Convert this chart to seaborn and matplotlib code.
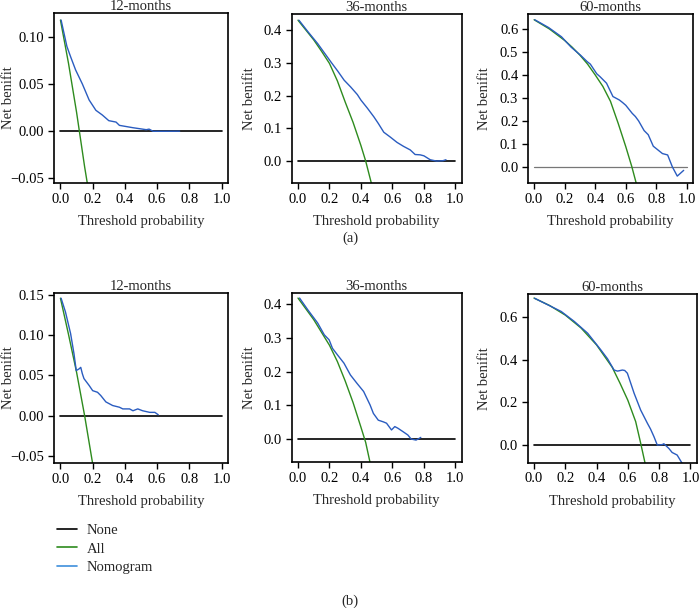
import numpy as np
import pandas as pd
import matplotlib
matplotlib.use("Agg")
import matplotlib.pyplot as plt
from matplotlib.lines import Line2D
import seaborn as sns

# ---------------- data ----------------
titles = ["12-months", "36-months", "60-months", "12-months", "36-months", "60-months"]
legend_labels = ["None", "All", "Nomogram"]

none_x = [0.0, 1.0]
none_y = [0.0, 0.0]

# (a) 12-months
a12_nom_x = [0.004, 0.04, 0.063, 0.094, 0.136, 0.178, 0.22, 0.26, 0.30, 0.345, 0.366, 0.45, 0.533, 0.55, 0.575, 0.66, 0.74]
a12_nom_y = [0.118, 0.090, 0.079, 0.065, 0.050, 0.033, 0.022, 0.017, 0.011, 0.0095, 0.006, 0.0035, 0.0014, 0.002, -0.0003, -0.0003, -0.0002]
a12_all_x = [0.0, 0.05, 0.10, 0.15, 0.17]
a12_all_y = [0.118, 0.072, 0.020, -0.038, -0.059]

# (a) 36-months
a36_nom_x = [0.006, 0.063, 0.126, 0.168, 0.21, 0.252, 0.293, 0.335, 0.377, 0.40, 0.44, 0.482, 0.51, 0.545, 0.587, 0.629, 0.67, 0.713, 0.744, 0.776, 0.80, 0.84, 0.88, 0.92, 0.94]
a36_nom_y = [0.430, 0.395, 0.358, 0.330, 0.302, 0.275, 0.247, 0.226, 0.203, 0.186, 0.162, 0.135, 0.115, 0.088, 0.073, 0.057, 0.045, 0.034, 0.020, 0.019, 0.016, 0.004, 0.0, 0.001, 0.004]
a36_all_x = [0.0, 0.10, 0.15, 0.20, 0.25, 0.30, 0.35, 0.40, 0.43, 0.47]
a36_all_y = [0.430, 0.370, 0.335, 0.298, 0.245, 0.180, 0.118, 0.047, 0.0, -0.075]

# (a) 60-months
a60_nom_x = [0.004, 0.095, 0.179, 0.242, 0.305, 0.347, 0.368, 0.41, 0.432, 0.474, 0.516, 0.558, 0.579, 0.60, 0.642, 0.663, 0.684, 0.72, 0.747, 0.78, 0.81, 0.84, 0.874, 0.905, 0.937, 0.979]
a60_nom_y = [0.640, 0.606, 0.566, 0.521, 0.485, 0.458, 0.447, 0.405, 0.392, 0.364, 0.306, 0.291, 0.280, 0.268, 0.233, 0.219, 0.200, 0.158, 0.140, 0.090, 0.074, 0.058, 0.052, 0.0, -0.040, -0.015]
a60_all_x = [0.0, 0.10, 0.20, 0.25, 0.30, 0.35, 0.40, 0.45, 0.50, 0.55, 0.60, 0.64, 0.67]
a60_all_y = [0.640, 0.600, 0.550, 0.520, 0.486, 0.447, 0.400, 0.350, 0.285, 0.190, 0.088, 0.0, -0.075]

# (b) 12-months
b12_nom_x = [0.004, 0.031, 0.063, 0.084, 0.098, 0.115, 0.126, 0.136, 0.146, 0.178, 0.20, 0.23, 0.25, 0.282, 0.324, 0.366, 0.387, 0.429, 0.45, 0.48, 0.51, 0.554, 0.586, 0.607]
b12_nom_y = [0.146, 0.129, 0.102, 0.077, 0.056, 0.058, 0.060, 0.052, 0.046, 0.0375, 0.031, 0.029, 0.025, 0.017, 0.0125, 0.0104, 0.0083, 0.0083, 0.006, 0.0083, 0.006, 0.004, 0.004, 0.001]
b12_all_x = [0.0, 0.05, 0.10, 0.15, 0.20]
b12_all_y = [0.146, 0.101, 0.054, 0.0, -0.060]

# (b) 36-months
b36_nom_x = [0.01, 0.0625, 0.125, 0.167, 0.198, 0.219, 0.25, 0.292, 0.333, 0.375, 0.417, 0.458, 0.479, 0.51, 0.542, 0.5625, 0.594, 0.615, 0.635, 0.667, 0.698, 0.719, 0.75, 0.77, 0.78]
b36_nom_y = [0.418, 0.383, 0.344, 0.309, 0.294, 0.269, 0.250, 0.225, 0.190, 0.165, 0.141, 0.101, 0.076, 0.056, 0.051, 0.047, 0.027, 0.037, 0.032, 0.022, 0.012, 0.0, -0.003, 0.002, 0.005]
b36_all_x = [0.0, 0.10, 0.20, 0.25, 0.30, 0.35, 0.40, 0.43, 0.465]
b36_all_y = [0.418, 0.354, 0.278, 0.230, 0.172, 0.108, 0.035, -0.010, -0.085]

# (b) 60-months
b60_nom_x = [0.004, 0.089, 0.174, 0.258, 0.343, 0.428, 0.47, 0.512, 0.534, 0.565, 0.58, 0.597, 0.64, 0.682, 0.725, 0.745, 0.767, 0.788, 0.82, 0.83, 0.862, 0.883, 0.915, 0.947]
b60_nom_y = [0.689, 0.658, 0.627, 0.580, 0.525, 0.446, 0.405, 0.352, 0.347, 0.352, 0.350, 0.337, 0.243, 0.164, 0.102, 0.075, 0.039, 0.0, 0.002, 0.006, -0.016, -0.035, -0.047, -0.086]
b60_all_x = [0.0, 0.10, 0.20, 0.30, 0.40, 0.50, 0.55, 0.60, 0.65, 0.68, 0.71]
b60_all_y = [0.690, 0.655, 0.610, 0.550, 0.470, 0.365, 0.290, 0.210, 0.110, 0.015, -0.085]

panels = [
    (a12_nom_x, a12_nom_y, a12_all_x, a12_all_y),
    (a36_nom_x, a36_nom_y, a36_all_x, a36_all_y),
    (a60_nom_x, a60_nom_y, a60_all_x, a60_all_y),
    (b12_nom_x, b12_nom_y, b12_all_x, b12_all_y),
    (b36_nom_x, b36_nom_y, b36_all_x, b36_all_y),
    (b60_nom_x, b60_nom_y, b60_all_x, b60_all_y),
]
y_ticks = [
    [-0.05, 0.0, 0.05, 0.10],
    [0.0, 0.1, 0.2, 0.3, 0.4],
    [0.0, 0.1, 0.2, 0.3, 0.4, 0.5, 0.6],
    [-0.05, 0.0, 0.05, 0.10, 0.15],
    [0.0, 0.1, 0.2, 0.3, 0.4],
    [0.0, 0.2, 0.4, 0.6],
]
y_fmt = ["%.2f", "%.1f", "%.1f", "%.2f", "%.1f", "%.1f"]
y_lims = [(-0.0553, 0.1255), (-0.067, 0.449), (-0.07, 0.665),
          (-0.059, 0.1525), (-0.068, 0.433), (-0.083, 0.709)]
x_ticks = [0.0, 0.2, 0.4, 0.6, 0.8, 1.0]

# ---------------- style ----------------
sns.set_style("ticks")
plt.rcParams["font.family"] = ["Liberation Serif", "DejaVu Serif"]
plt.rcParams["axes.unicode_minus"] = True
plt.rcParams["xtick.direction"] = "out"
plt.rcParams["ytick.direction"] = "out"

BLACK = "#000000"
GREEN = "#2e8b1e"
BLUE = "#2a5cc0"
BLUE_LEG = "#3e8fdc"
FS = 10.5

fig = plt.figure(figsize=(7.0, 6.08), dpi=100)

W, H = 700.0, 608.0
boxes = [
    (54, 13, 228, 183), (291.7, 14, 461.7, 183), (528, 14, 693, 183),
    (54, 293, 228, 463), (291.7, 293, 461.7, 462), (527.7, 294, 696.7, 462.7),
]
# right edge (px) of each rotated y label
ylabel_px = [15, 256, 491, 15, 256, 491]

for i, (b, pdata) in enumerate(zip(boxes, panels)):
    l, t, r, bt = b
    ax = fig.add_axes([l / W, 1 - bt / H, (r - l) / W, (bt - t) / H])
    nx, ny, gx, gy = pdata
    zero_col = "#777777" if i == 2 else BLACK
    zero_lw = 0.9 if i == 2 else 1.2
    sns.lineplot(x=none_x, y=none_y, ax=ax, color=zero_col, lw=zero_lw)
    sns.lineplot(x=gx, y=gy, ax=ax, color=GREEN, lw=1.0, sort=False)
    sns.lineplot(x=nx, y=ny, ax=ax, color=BLUE, lw=1.0, sort=False)
    ax.set_xlim(-0.04, 1.04)
    ax.set_ylim(*y_lims[i])
    ax.set_xticks(x_ticks)
    ax.set_xticklabels(["%.1f" % v for v in x_ticks])
    ax.set_yticks(y_ticks[i])
    ax.set_yticklabels([(y_fmt[i] % v).replace("-", "\u2212") for v in y_ticks[i]])
    ax.tick_params(labelsize=FS, length=4, width=1.0, colors=BLACK, pad=3)
    for s in ax.spines.values():
        s.set_linewidth(1.2)
        s.set_color(BLACK)
    ax.set_title(titles[i], fontsize=FS, pad=2)
    ax.set_xlabel("Threshold probability", fontsize=FS, labelpad=7)
    ax.set_ylabel("Net benifit", fontsize=FS)
    ax.yaxis.set_label_coords((ylabel_px[i] - l) / (r - l), 0.5)

fig.text(0.5, 1 - 238 / H, "(a)", ha="center", va="center", fontsize=FS)
fig.text(0.5, 1 - 601 / H, "(b)", ha="center", va="center", fontsize=FS)

handles = [Line2D([], [], color=BLACK, lw=1.2),
           Line2D([], [], color=GREEN, lw=1.2),
           Line2D([], [], color=BLUE_LEG, lw=1.2)]
fig.legend(handles, legend_labels, loc="upper left",
           bbox_to_anchor=(57 / W, 1 - 524 / H), frameon=False,
           fontsize=FS, handlelength=1.35, handletextpad=0.7,
           labelspacing=0.35, borderaxespad=0, borderpad=0)

fig.savefig("out.png", dpi=100)
